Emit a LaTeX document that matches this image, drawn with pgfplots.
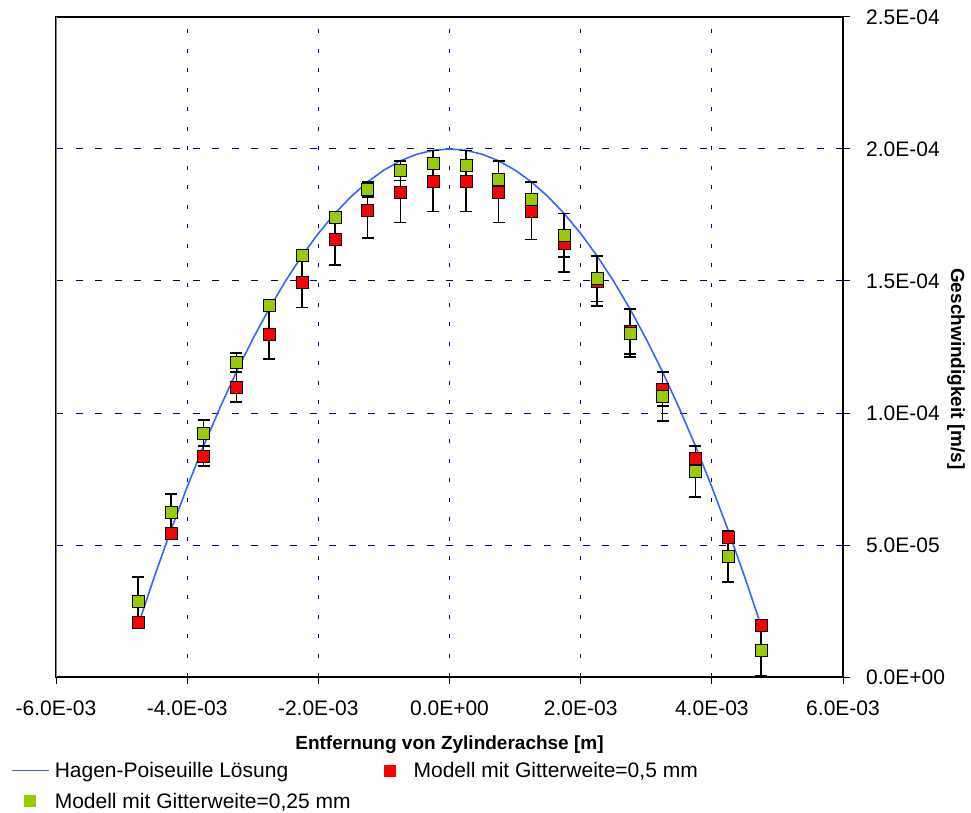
\documentclass[border=0pt]{standalone}
\usepackage{fontspec}
\setmainfont{Liberation Sans}
\usepackage{pgfplots}
\pgfplotsset{compat=1.18}
\usepackage{pgfplotstable}
\definecolor{hpblue}{RGB}{51,102,255}
\definecolor{mred}{RGB}{255,0,0}
\definecolor{mgreen}{RGB}{153,204,0}
\definecolor{gridnavy}{RGB}{0,0,128}

% x [m], red value, red error, green value, green error [m/s]
\pgfplotstableread{
x r re g ge
-4.75e-3 0.207e-4 0.012e-4 0.287e-4 0.092e-4
-4.25e-3 0.543e-4 0.012e-4 0.624e-4 0.069e-4
-3.75e-3 0.837e-4 0.038e-4 0.924e-4 0.049e-4
-3.25e-3 1.098e-4 0.057e-4 1.191e-4 0.036e-4
-2.75e-3 1.300e-4 0.095e-4 1.409e-4 0.014e-4
-2.25e-3 1.497e-4 0.098e-4 1.596e-4 0.001e-4
-1.75e-3 1.658e-4 0.097e-4 1.742e-4 0.013e-4
-1.25e-3 1.769e-4 0.106e-4 1.847e-4 0.028e-4
-0.75e-3 1.838e-4 0.117e-4 1.918e-4 0.037e-4
-0.25e-3 1.879e-4 0.116e-4 1.946e-4 0.049e-4
0.25e-3 1.879e-4 0.116e-4 1.937e-4 0.058e-4
0.75e-3 1.838e-4 0.117e-4 1.886e-4 0.069e-4
1.25e-3 1.766e-4 0.109e-4 1.809e-4 0.066e-4
1.75e-3 1.645e-4 0.110e-4 1.673e-4 0.082e-4
2.25e-3 1.500e-4 0.095e-4 1.509e-4 0.086e-4
2.75e-3 1.309e-4 0.086e-4 1.304e-4 0.091e-4
3.25e-3 1.092e-4 0.065e-4 1.062e-4 0.093e-4
3.75e-3 0.830e-4 0.045e-4 0.778e-4 0.097e-4
4.25e-3 0.530e-4 0.025e-4 0.457e-4 0.098e-4
4.75e-3 0.196e-4 0.001e-4 0.100e-4 0.095e-4
}\datatab

% Hagen-Poiseuille solution
\pgfplotstableread{
x v
-4.75e-3 0.195e-4
-4.50e-3 0.380e-4
-4.25e-3 0.555e-4
-4.00e-3 0.720e-4
-3.75e-3 0.875e-4
-3.50e-3 1.020e-4
-3.25e-3 1.155e-4
-3.00e-3 1.280e-4
-2.75e-3 1.395e-4
-2.50e-3 1.500e-4
-2.25e-3 1.595e-4
-2.00e-3 1.680e-4
-1.75e-3 1.755e-4
-1.50e-3 1.820e-4
-1.25e-3 1.875e-4
-1.00e-3 1.920e-4
-0.75e-3 1.955e-4
-0.50e-3 1.980e-4
-0.25e-3 1.995e-4
0.00e-3 2.000e-4
0.25e-3 1.995e-4
0.50e-3 1.980e-4
0.75e-3 1.955e-4
1.00e-3 1.920e-4
1.25e-3 1.875e-4
1.50e-3 1.820e-4
1.75e-3 1.755e-4
2.00e-3 1.680e-4
2.25e-3 1.595e-4
2.50e-3 1.500e-4
2.75e-3 1.395e-4
3.00e-3 1.280e-4
3.25e-3 1.155e-4
3.50e-3 1.020e-4
3.75e-3 0.875e-4
4.00e-3 0.720e-4
4.25e-3 0.555e-4
4.50e-3 0.380e-4
4.75e-3 0.195e-4
}\hptab

\begin{document}
\begin{tikzpicture}[x=1pt,y=1pt]
\path[use as bounding box] (0,0) rectangle (971,812);
\begin{axis}[
  at={(56pt,135pt)}, anchor=south west,
  scale only axis, width=787pt, height=660pt,
  xmin=-6e-3, xmax=6e-3, ymin=0, ymax=2.5e-4,
  scaled ticks=false,
  xtick={-6e-3,-4e-3,-2e-3,0,2e-3,4e-3,6e-3},
  xticklabels={-6.0E-03,-4.0E-03,-2.0E-03,0.0E+00,2.0E-03,4.0E-03,6.0E-03},
  ytick={0,0.5e-4,1e-4,1.5e-4,2e-4,2.5e-4},
  yticklabels={0.0E+00,5.0E-05,1.0E-04,1.5E-04,2.0E-04,2.5E-04},
  xtick pos=left, ytick pos=right, yticklabel pos=right,
  tick align=outside, major tick length=7pt,
  tick style={black, line width=1pt},
  axis line style={black, line width=1.2pt},
  grid=major,
  x grid style={gridnavy, line width=1pt, dash pattern=on 4pt off 15.5pt},
  y grid style={gridnavy, line width=1pt, dash pattern=on 7pt off 12.5pt},
  xticklabel style={font=\fontsize{21}{25}\selectfont, anchor=base, inner sep=0pt, yshift=-31pt},
  yticklabel style={font=\fontsize{21}{25}\selectfont, anchor=west, inner sep=0pt, xshift=16pt},
  xlabel={Entfernung von Zylinderachse [m]},
  ylabel={Geschwindigkeit [m/s]},
  label style={font=\fontsize{19}{22}\selectfont\bfseries},
  xlabel style={at={(axis description cs:0.5,-0.1091)}, anchor=base},
  ylabel style={at={(axis description cs:1.1436,0.4667)}, anchor=center, rotate=180},
  legend columns=2, legend cell align=left,
  legend style={at={(axis description cs:-0.0572,-0.1288)}, anchor=north west,
    draw=none, fill=none, inner sep=0pt,
    font=\fontsize{21}{25}\selectfont,
    row sep=14pt,
    nodes={inner sep=0pt},
    /tikz/every odd column/.append style={column sep=5pt},
    /tikz/every even column/.append style={column sep=21pt}},
]
\addlegendimage{legend image code/.code={\draw[hpblue, line width=1.6pt] (0pt,0pt) -- (37pt,0pt);}}
\addlegendentry{Hagen-Poiseuille Lösung}
\addlegendimage{legend image code/.code={\path[draw=none, fill=none] (0pt,0pt) -- (37pt,0pt); \fill[mred, draw=none] (12pt,-6pt) rectangle (24pt,6pt);}}
\addlegendentry{Modell mit Gitterweite=0,5 mm}
\addlegendimage{legend image code/.code={\path[draw=none, fill=none] (0pt,0pt) -- (37pt,0pt); \fill[mgreen, draw=none] (12pt,-6pt) rectangle (24pt,6pt);}}
\addlegendentry{Modell mit Gitterweite=0,25 mm}

\addplot[hpblue, line width=1.6pt, mark=none, forget plot]
  table[x=x, y=v] {\hptab};

\addplot[draw=none, mark=none, forget plot,
  error bars/.cd, y dir=both, y explicit, error mark=|,
  error bar style={draw=black, solid, line width=1.6pt},
  error mark options={draw=black, solid, mark size=6pt, line width=1.6pt}]
  table[x=x, y=r, y error=re] {\datatab};
\addplot[draw=none, mark=none, forget plot,
  error bars/.cd, y dir=both, y explicit, error mark=|,
  error bar style={draw=black, solid, line width=1.6pt},
  error mark options={draw=black, solid, mark size=6pt, line width=1.6pt}]
  table[x=x, y=g, y error=ge] {\datatab};

\addplot[only marks, mark=square*, mark size=6pt, mark options={fill=mred, draw=none}, forget plot]
  table[x=x, y=r] {\datatab};
\addplot[only marks, mark=square*, mark size=6pt, mark options={fill=mgreen, draw=none}, forget plot]
  table[x=x, y=g] {\datatab};

\draw[gray, line width=1.2pt] (rel axis cs:0,0) -- (rel axis cs:0,1);
\end{axis}
\end{tikzpicture}
\end{document}
